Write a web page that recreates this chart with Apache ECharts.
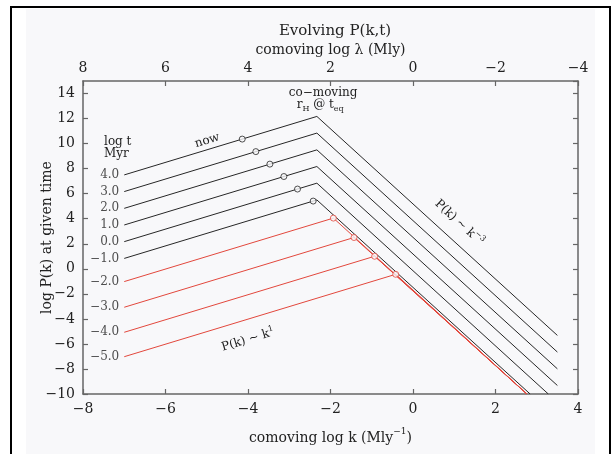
<!DOCTYPE html>
<html>
<head>
<meta charset="utf-8">
<script src="https://cdn.jsdelivr.net/npm/echarts@6/dist/echarts.min.js"></script>
<style>
  html, body { margin: 0; padding: 0; background: #fff; }
  #frame { position: absolute; left: 10px; top: 6px; width: 601px; height: 460px;
           border: 2px solid #000; box-sizing: border-box; background: #fff; }
  #panel { position: absolute; left: 26px; top: 9px; width: 569px; height: 460px; background: #f8f8fa; }
  #chart { position: absolute; left: 0; top: 0; width: 613px; height: 454px; }
</style>
</head>
<body>
<div id="frame"></div>
<div id="panel"></div>
<div id="chart"></div>
<script>
// Power spectrum P(k) at successive cosmic times (log t in Myr).
// Each curve: rising k^1 branch from k = -7, a bend, then a k^-3 tail.
const logTimeLabels = ['4.0', '3.0', '2.0', '1.0', '0.0', '−1.0', '−2.0', '−3.0', '−4.0', '−5.0'];
const era = ['matter', 'matter', 'matter', 'matter', 'matter', 'matter',
             'radiation', 'radiation', 'radiation', 'radiation'];

const startK = [-7, -7, -7, -7, -7, -7, -7, -7, -7, -7];
const startP = [7.50, 6.17, 4.83, 3.50, 2.17, 0.83, -1.02, -3.07, -5.07, -7.02];
const bendK  = [-2.33, -2.33, -2.33, -2.33, -2.33, -2.33, -1.93, -1.43, -0.93, -0.42];
const bendP  = [12.17, 10.84, 9.50, 8.17, 6.84, 5.50, 4.05, 2.50, 1.00, -0.44];
const endK   = [3.50, 3.50, 3.50, 3.50, 3.28, 2.84, 2.76, 2.76, 2.76, 2.76];
const endP   = [-5.32, -6.65, -7.99, -9.32, -10, -10, -10, -10, -10, -10];

// horizon-crossing markers
const crossK = [-4.14, -3.81, -3.47, -3.13, -2.80, -2.42, -1.93, -1.43, -0.93, -0.42];
const crossP = [10.36, 9.36, 8.36, 7.37, 6.37, 5.41, 4.05, 2.50, 1.00, -0.44];

const kTicks = [-8, -6, -4, -2, 0, 2, 4];
const pTicks = [-10, -8, -6, -4, -2, 0, 2, 4, 6, 8, 10, 12, 14];

const SERIF = "'DejaVu Serif', 'Liberation Serif', serif";
const INK = '#222';
const COLORS = { matter: '#262626', radiation: '#e2473c' };
const BG = '#f8f8fa';

const fmtMinus = v => (v < 0 ? '−' + Math.abs(v) : String(v));

const chart = echarts.init(document.getElementById('chart'), null, { renderer: 'canvas' });

const axisCommon = {
  type: 'value',
  nameMoveOverlap: false,
  axisLine: { show: true, onZero: false, lineStyle: { color: '#666', width: 1.5 } },
  axisTick: { show: true, inside: true, length: 5, lineStyle: { color: '#666', width: 1.2 } },
  splitLine: { show: false },
  axisLabel: { color: INK, fontFamily: SERIF, fontSize: 14 }
};

const series = [];
logTimeLabels.forEach((lab, i) => {
  series.push({
    type: 'line',
    name: 'log t = ' + lab,
    data: [[startK[i], startP[i]], [bendK[i], bendP[i]], [endK[i], endP[i]]],
    symbol: 'none',
    lineStyle: { color: COLORS[era[i]], width: 1 },
    z: era[i] === 'radiation' ? 3 : 2,
    animation: false
  });
});

// time labels to the left of each curve
series.push({
  type: 'scatter',
  name: 'time labels',
  data: startK.map((k, i) => [k, startP[i]]),
  symbolSize: 0,
  label: {
    show: true, position: 'left', distance: 5,
    formatter: p => logTimeLabels[p.dataIndex],
    color: INK, fontFamily: SERIF, fontSize: 12
  },
  silent: true, animation: false
});

// horizon-crossing circles
series.push({
  type: 'scatter',
  name: 'horizon crossing',
  data: crossK.map((k, i) => ({
    value: [k, crossP[i]],
    itemStyle: { color: BG, borderColor: COLORS[era[i]], borderWidth: 1 }
  })),
  symbol: 'circle',
  symbolSize: 6,
  z: 5,
  animation: false
});

const option = {
  animation: false,
  backgroundColor: 'transparent',
  title: {
    text: 'Evolving P(k,t)',
    left: 330, top: 19, textAlign: 'center',
    textStyle: { color: INK, fontFamily: SERIF, fontSize: 15, fontWeight: 'normal' }
  },
  grid: { left: 83, right: 35, top: 81, bottom: 60, containLabel: false },
  xAxis: [
    Object.assign({}, axisCommon, {
      position: 'bottom', min: -8, max: 4, interval: 2,
      axisLabel: Object.assign({}, axisCommon.axisLabel, { margin: 8, formatter: fmtMinus }),
      name: '{n|comoving log k (Mly}{s|−1}{n|)}',
      nameLocation: 'middle', nameGap: 33,
      nameTextStyle: {
        rich: {
          n: { color: INK, fontFamily: SERIF, fontSize: 14, lineHeight: 18, verticalAlign: 'bottom' },
          s: { color: INK, fontFamily: SERIF, fontSize: 9, lineHeight: 18, verticalAlign: 'top' }
        }
      }
    }),
    Object.assign({}, axisCommon, {
      position: 'top', min: -8, max: 4, interval: 2,
      axisLabel: Object.assign({}, axisCommon.axisLabel, { margin: 6, formatter: v => fmtMinus(-v) }),
      name: 'comoving log λ (Mly)',
      nameLocation: 'middle', nameGap: 24,
      nameTextStyle: { color: INK, fontFamily: SERIF, fontSize: 14 }
    })
  ],
  yAxis: [
    Object.assign({}, axisCommon, {
      position: 'left', min: -10, max: 15, interval: 2,
      axisLabel: Object.assign({}, axisCommon.axisLabel, { margin: 8, formatter: fmtMinus, showMaxLabel: false }),
      name: 'log P(k) at given time',
      nameLocation: 'middle', nameGap: 29,
      nameTextStyle: { color: INK, fontFamily: SERIF, fontSize: 14 }
    }),
    Object.assign({}, axisCommon, {
      position: 'right', min: -10, max: 15, interval: 2,
      axisLabel: { show: false }
    })
  ],
  series: series
};

chart.setOption(option);

// text annotations anchored in data coordinates
const px = (k, p) => chart.convertToPixel({ xAxisIndex: 0, yAxisIndex: 0 }, [k, p]);
const o = px(0, 0), u1 = px(1, 1), u3 = px(1, -3);
const angRise = Math.atan2(o[1] - u1[1], u1[0] - o[0]);
const angFall = Math.atan2(o[1] - u3[1], u3[0] - o[0]);

const txt = (k, p, text, extra) => {
  const [x, y] = px(k, p);
  return Object.assign({
    type: 'text', x: x, y: y, silent: true,
    style: Object.assign({
      text: text, fill: INK, font: '12px ' + SERIF,
      align: 'center', verticalAlign: 'middle'
    }, (extra && extra.style) || {})
  }, extra && extra.rotation !== undefined ? { rotation: extra.rotation } : {});
};

const richBase = {
  b: { fill: INK, font: '12px ' + SERIF, lineHeight: 16, verticalAlign: 'middle' },
  sup: { fill: INK, font: '8px ' + SERIF, lineHeight: 16, verticalAlign: 'top' },
  sub: { fill: INK, font: '8px ' + SERIF, lineHeight: 16, verticalAlign: 'bottom' }
};

chart.setOption({
  graphic: [
    txt(-4.99, 10.24, 'now', { rotation: angRise }),
    txt(-7.49, 10.16, 'log t', { style: { align: 'left' } }),
    txt(-7.49, 9.20, 'Myr', { style: { align: 'left' } }),
    txt(-2.18, 14.08, 'co−moving'),
    txt(-2.25, 13.10, '{b|r}{sub|H}{b| @ t}{sub|eq}', { style: { rich: richBase } }),
    txt(1.12, 3.68, '{b|P(k) ~ k}{sup|−3}', { rotation: angFall, style: { rich: richBase } }),
    txt(-4.00, -5.68, '{b|P(k) ~ k}{sup|1}', { rotation: angRise, style: { rich: richBase } })
  ]
});
</script>
</body>
</html>
